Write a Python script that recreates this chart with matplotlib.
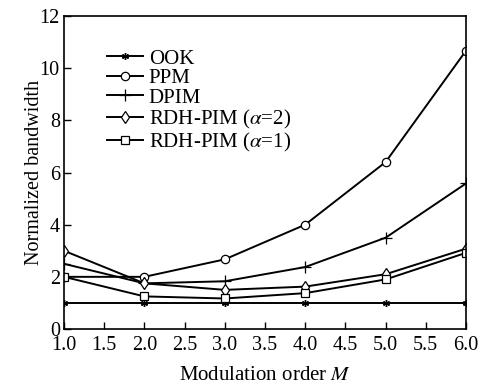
import matplotlib
matplotlib.use("Agg")
import matplotlib.pyplot as plt

M = [1, 2, 3, 4, 5, 6]
ook = [1, 1, 1, 1, 1, 1]
ppm = [2.0, 2.0, 2.67, 4.0, 6.4, 10.67]
dpim = [2.5, 1.75, 1.83, 2.375, 3.5, 5.58]
rdh2 = [3.0, 1.75, 1.5, 1.625, 2.1, 3.08]
rdh1 = [2.0, 1.25, 1.17, 1.375, 1.9, 2.92]
labels = ["OOK", "PPM", "DPIM", r"RDH-PIM ($\alpha$=2)", r"RDH-PIM ($\alpha$=1)"]

plt.rcParams['font.family'] = ['Liberation Serif', 'DejaVu Serif']
plt.rcParams['mathtext.fontset'] = 'stix'

fig = plt.figure(figsize=(4.83, 3.87), dpi=100)
# axes: left 64px, right 466px, top 16px, bottom 329px
ax = fig.add_axes([64/483, 1-329/387, (466-64)/483, (329-16)/387])

lw = 1.4
ax.plot(M, ook, color='black', lw=lw, marker=(6, 2, 0), ms=5, label=labels[0])
ax.plot(M, ppm, color='black', lw=lw, marker='o', ms=6, mfc='white', mew=0.9, label=labels[1])
ax.plot(M, dpim, color='black', lw=lw, marker='+', ms=8, mew=0.9, label=labels[2])
ax.plot(M, rdh2, color='black', lw=lw, marker='d', ms=6.5, mfc='white', mew=0.9, label=labels[3])
ax.plot(M, rdh1, color='black', lw=lw, marker='s', ms=5.5, mfc='white', mew=0.9, label=labels[4])

ax.set_xlim(1.0, 6.0)
ax.set_ylim(0, 12)
ax.set_xticks([1.0, 1.5, 2.0, 2.5, 3.0, 3.5, 4.0, 4.5, 5.0, 5.5, 6.0])
ax.set_xticklabels(['1.0', '1.5', '2.0', '2.5', '3.0', '3.5', '4.0', '4.5', '5.0', '5.5', '6.0'])
ax.set_yticks([0, 2, 4, 6, 8, 10, 12])
ax.tick_params(direction='in', labelsize=14.5, length=5, width=1)
ax.tick_params(axis='x', pad=5)
ax.tick_params(axis='y', pad=3)
for s in ax.spines.values():
    s.set_linewidth(1.2)

ax.set_xlabel(r"Modulation order $M$", fontsize=15, labelpad=8)
ax.set_ylabel("Normalized bandwidth", fontsize=14.5, labelpad=-3)

leg = ax.legend(loc='upper left', bbox_to_anchor=(43/402, 1-(49-16)/313), frameon=False, fontsize=15,
                handlelength=1.75, handletextpad=0.25, labelspacing=0.0, borderaxespad=0,
                borderpad=0)

fig.savefig("out.png", dpi=100)
